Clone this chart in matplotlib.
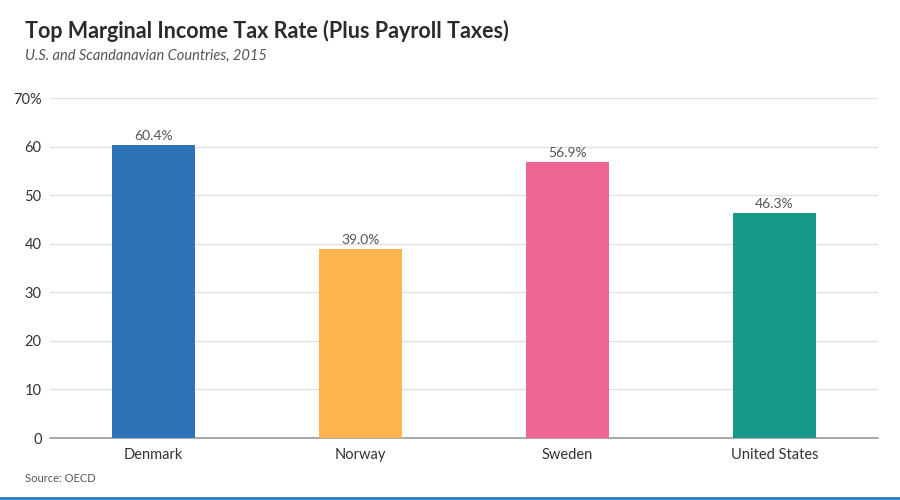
import matplotlib.pyplot as plt
import numpy as np

plt.rcParams['font.family'] = ['Lato', 'DejaVu Sans']

# data
countries = ['Denmark', 'Norway', 'Sweden', 'United States']
rates = [60.4, 39.0, 56.9, 46.3]
bar_colors = ['#2c73b8', '#fdb64e', '#ef6694', '#17998a']
yticks = [0, 10, 20, 30, 40, 50, 60, 70]
ytick_labels = ['0', '10', '20', '30', '40', '50', '60', '70%']

fig = plt.figure(figsize=(9, 5), dpi=100, facecolor='white')
ax = fig.add_axes([0.0556, 0.124, 0.92, 0.68])

x = np.arange(len(countries))
ax.bar(x, rates, width=0.4, color=bar_colors, zorder=3)
for xi, v in zip(x, rates):
    ax.text(xi, v + 0.6, f'{v:.1f}%', ha='center', va='bottom',
            fontsize=10, color='#555555', zorder=4)

ax.set_xlim(-0.5, 3.5)
ax.set_ylim(0, 70)
ax.set_yticks(yticks)
ax.set_yticklabels(ytick_labels, fontsize=10.5, color='#333333')
ax.set_xticks(x)
ax.set_xticklabels(countries, fontsize=10.5, color='#333333')
ax.tick_params(axis='both', length=0)
ax.tick_params(axis='y', pad=6)
ax.tick_params(axis='x', pad=7)

ax.grid(True, axis='y', color='#e2e2e2', linewidth=1.0, zorder=0)
for s in ['top', 'right', 'left']:
    ax.spines[s].set_visible(False)
ax.spines['bottom'].set_color('#9a9a9a')
ax.spines['bottom'].set_linewidth(1.2)

fig.text(0.028, 0.925, 'Top Marginal Income Tax Rate (Plus Payroll Taxes)',
         fontsize=15.5, fontweight='bold', color='#2b2b2b', ha='left', va='baseline')
fig.text(0.028, 0.88, 'U.S. and Scandanavian Countries, 2015',
         fontsize=10.5, style='italic', color='#555555', ha='left', va='baseline')
fig.text(0.028, 0.035, 'Source: OECD', fontsize=8, color='#555555',
         ha='left', va='baseline')

# blue strip at the bottom
fig.add_artist(plt.Line2D([0, 1], [0.004, 0.004], color='#2a7bc0',
                          linewidth=2, transform=fig.transFigure))

plt.savefig('out.png', dpi=100, facecolor='white')
